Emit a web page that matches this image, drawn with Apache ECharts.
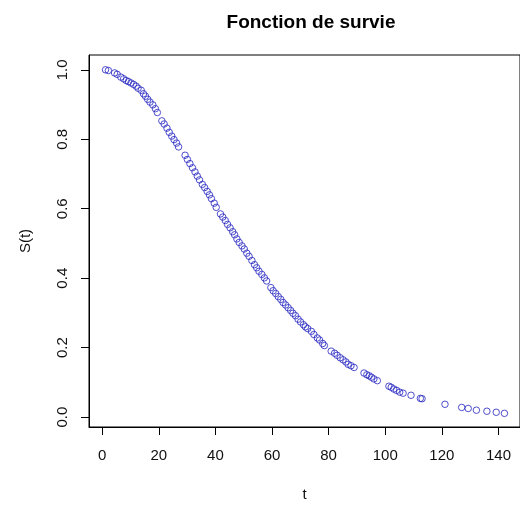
<!DOCTYPE html>
<html>
<head>
<meta charset="utf-8">
<script src="https://cdn.jsdelivr.net/npm/echarts@6/dist/echarts.min.js"></script>
<style>html,body{margin:0;padding:0;background:#fff}#c{width:520px;height:507px}</style>
</head>
<body>
<div id="c"></div>
<script>
const tValues = [1.2,2.2,4.4,5.3,6.6,7.6,8.5,9.3,10.2,11.1,12.0,12.7,13.8,14.6,15.3,16.1,16.9,17.9,18.8,19.5,
  21.1,21.9,22.9,23.7,24.6,25.4,26.3,27.0,29.3,30.1,31.0,31.9,32.8,33.6,34.4,35.4,36.2,37.1,37.9,38.6,39.6,40.3,
  41.8,42.6,43.5,44.3,45.2,46.1,46.8,47.6,48.4,49.4,50.2,51.1,51.9,52.9,53.8,54.6,55.4,56.4,57.3,58.1,
  59.6,60.4,61.3,62.2,63.1,63.9,64.8,65.7,66.6,67.4,68.3,69.2,70.1,71.1,71.8,72.6,73.9,74.8,76.0,76.8,77.9,78.5,
  80.9,82.1,83.0,84.1,85.1,86.1,86.9,87.9,89.0,92.5,93.5,94.3,95.1,96.0,97.2,101.3,102.1,103.0,104.0,105.1,106.3,
  109.1,112.4,113.0,121.1,127.0,129.3,132.2,135.9,139.2,142.1];
const sValues = [1.0,0.998,0.991,0.987,0.979,0.974,0.969,0.966,0.962,0.958,0.953,0.947,0.941,0.931,0.924,0.915,0.907,0.899,0.888,0.877,
  0.853,0.844,0.832,0.820,0.809,0.799,0.789,0.778,0.754,0.742,0.730,0.718,0.706,0.694,0.683,0.670,0.661,0.650,0.640,0.629,0.616,0.604,
  0.585,0.576,0.566,0.555,0.545,0.534,0.525,0.513,0.503,0.493,0.484,0.472,0.463,0.451,0.439,0.430,0.420,0.411,0.401,0.392,
  0.373,0.364,0.356,0.347,0.339,0.330,0.323,0.315,0.307,0.299,0.292,0.282,0.274,0.266,0.260,0.255,0.247,0.238,0.228,0.222,0.212,0.206,
  0.190,0.184,0.178,0.171,0.165,0.159,0.152,0.148,0.143,0.127,0.122,0.119,0.115,0.110,0.105,0.089,0.086,0.081,0.077,0.072,0.069,
  0.063,0.054,0.053,0.037,0.028,0.025,0.020,0.017,0.014,0.011];
const xTicks = [0,20,40,60,80,100,120,140];
const yTicks = [0,0.2,0.4,0.6,0.8,1.0];
const titleText = 'Fonction de survie';
const xName = 't';
const yName = 'S(t)';

const font = 'Liberation Sans, Arial, sans-serif';
const chart = echarts.init(document.getElementById('c'), null, {renderer: 'canvas'});
chart.setOption({
  animation: false,
  backgroundColor: '#fff',
  title: {
    text: titleText, left: 306, top: 8, textAlign: 'center',
    textStyle: {fontFamily: font, fontSize: 19, fontWeight: 'bold', color: '#000'}
  },
  grid: {left: 89, top: 55, right: -4, bottom: 75, show: true, borderColor: '#000', borderWidth: 1, backgroundColor: 'transparent'},
  xAxis: {
    type: 'value', min: -4.64, max: 147.6,
    axisLine: {show: true, onZero: false, lineStyle: {color: '#000', width: 1}}, splitLine: {show: false},
    axisTick: {show: true, inside: false, customValues: xTicks, length: 8, lineStyle: {color: '#000', width: 1}},
    axisLabel: {customValues: xTicks, margin: 21, fontSize: 15, color: '#111', fontFamily: font},
    name: xName, nameLocation: 'middle', nameGap: 60,
    nameTextStyle: {fontSize: 15, color: '#111', fontFamily: font}
  },
  yAxis: {
    type: 'value', min: -0.0284, max: 1.0426,
    axisLine: {show: true, onZero: false, lineStyle: {color: '#000', width: 1}}, splitLine: {show: false},
    axisTick: {show: true, inside: false, customValues: yTicks, length: 8, lineStyle: {color: '#000', width: 1}},
    axisLabel: {customValues: yTicks, margin: 19, rotate: 90, fontSize: 15, color: '#111', fontFamily: font,
      formatter: v => v.toFixed(1)},
    name: yName, nameLocation: 'middle', nameGap: 56, nameRotate: 90,
    nameTextStyle: {fontSize: 15, color: '#111', fontFamily: font}
  },
  series: [{
    type: 'scatter',
    data: tValues.map((t, i) => [t, sValues[i]]),
    symbol: 'circle', symbolSize: 6.5,
    itemStyle: {color: 'transparent', borderColor: '#2424c0', borderWidth: 1},
    silent: true
  }]
});
</script>
</body>
</html>
